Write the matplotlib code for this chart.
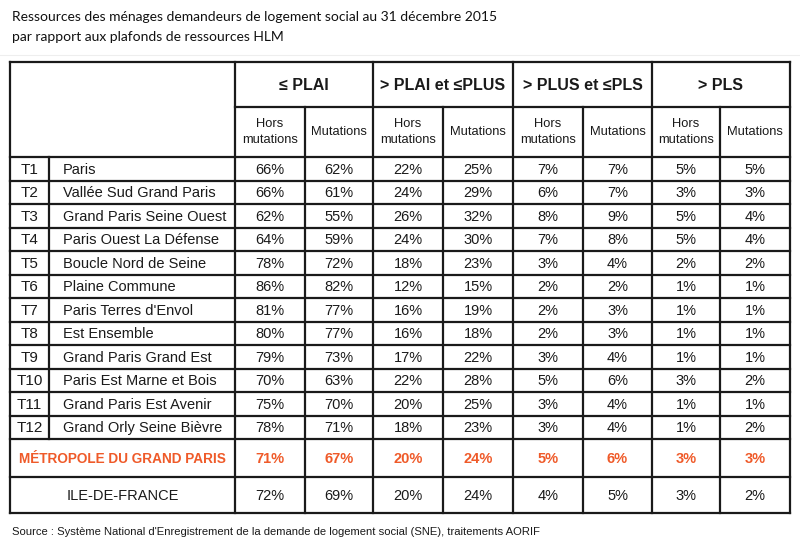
import matplotlib.pyplot as plt

# table content
codes = ["T1", "T2", "T3", "T4", "T5", "T6", "T7", "T8", "T9", "T10", "T11", "T12"]
names = ["Paris", "Vallée Sud Grand Paris", "Grand Paris Seine Ouest",
         "Paris Ouest La Défense", "Boucle Nord de Seine", "Plaine Commune",
         "Paris Terres d'Envol", "Est Ensemble", "Grand Paris Grand Est",
         "Paris Est Marne et Bois", "Grand Paris Est Avenir", "Grand Orly Seine Bièvre"]
plai_hors = [66, 66, 62, 64, 78, 86, 81, 80, 79, 70, 75, 78]
plai_mut = [62, 61, 55, 59, 72, 82, 77, 77, 73, 63, 70, 71]
plus_hors = [22, 24, 26, 24, 18, 12, 16, 16, 17, 22, 20, 18]
plus_mut = [25, 29, 32, 30, 23, 15, 19, 18, 22, 28, 25, 23]
pls_hors = [7, 6, 8, 7, 3, 2, 2, 2, 3, 5, 3, 3]
pls_mut = [7, 7, 9, 8, 4, 2, 3, 3, 4, 6, 4, 4]
over_hors = [5, 3, 5, 5, 2, 1, 1, 1, 1, 3, 1, 1]
over_mut = [5, 3, 4, 4, 2, 1, 1, 1, 1, 2, 1, 2]

metropole_label = "MÉTROPOLE DU GRAND PARIS"
metropole = [71, 67, 20, 24, 5, 6, 3, 3]
idf_label = "ILE-DE-FRANCE"
idf = [72, 69, 20, 24, 4, 5, 3, 2]

groups = ["≤ PLAI", "> PLAI et ≤PLUS", "> PLUS et ≤PLS", "> PLS"]
subheads = ["Hors\nmutations", "Mutations"]

title_lines = ["Ressources des ménages demandeurs de logement social au 31 décembre 2015",
               "par rapport aux plafonds de ressources HLM"]
source = "Source : Système National d'Enregistrement de la demande de logement social (SNE), traitements AORIF"

ORANGE = "#ef5a29"
INK = "#1a1a1a"
FONT = "Liberation Sans"

# layout (pixel coords)
col_x = [235, 305, 373, 443, 513, 583, 652, 720, 790]
left, code_div = 10, 49
top, head1, head2 = 62, 107, 157
row_h = 23.5
body_bottom = head2 + row_h * len(codes)
metro_bottom = 477
bottom = 513

fig = plt.figure(figsize=(8, 5.47), dpi=100)
ax = fig.add_axes([0, 0, 1, 1])
ax.set_xlim(0, 800)
ax.set_ylim(547, 0)
ax.axis("off")

for k, line in enumerate(title_lines):
    ax.text(12, 17 + 20 * k, line, fontsize=10, family="Lato", color="#111111",
            va="center", ha="left")
ax.plot([0, 800], [55, 55], color="#eeeeee", lw=0.8)

lw = 1.6
# horizontal lines
ax.plot([left, col_x[-1]], [top, top], color=INK, lw=lw)
ax.plot([col_x[0], col_x[-1]], [head1, head1], color=INK, lw=lw)
ax.plot([left, col_x[-1]], [head2, head2], color=INK, lw=lw)
for i in range(1, len(codes) + 1):
    y = head2 + row_h * i
    ax.plot([left, col_x[-1]], [y, y], color=INK, lw=lw)
ax.plot([left, col_x[-1]], [metro_bottom, metro_bottom], color=INK, lw=lw)
ax.plot([left, col_x[-1]], [bottom, bottom], color=INK, lw=lw)

# vertical lines
ax.plot([left, left], [top, bottom], color=INK, lw=lw)
ax.plot([code_div, code_div], [head2, body_bottom], color=INK, lw=lw)
for j, x in enumerate(col_x):
    y0 = top if j % 2 == 0 else head1
    ax.plot([x, x], [y0, bottom], color=INK, lw=lw)

# headers
for g, lab in enumerate(groups):
    cx = (col_x[2 * g] + col_x[2 * g + 2]) / 2
    ax.text(cx, (top + head1) / 2 + 1, lab, ha="center", va="center",
            fontsize=11.5, fontweight="bold", family=FONT, color=INK)
    for s, sub in enumerate(subheads):
        sx = (col_x[2 * g + s] + col_x[2 * g + s + 1]) / 2
        ax.text(sx, (head1 + head2) / 2, sub, ha="center", va="center",
                fontsize=9.3, family=FONT, color=INK, linespacing=1.35)

# body rows
cols = [plai_hors, plai_mut, plus_hors, plus_mut, pls_hors, pls_mut, over_hors, over_mut]
for i in range(len(codes)):
    cy = head2 + row_h * (i + 0.5) + 1
    ax.text((left + code_div) / 2, cy, codes[i], ha="center", va="center",
            fontsize=11, family=FONT, color=INK)
    ax.text(63, cy, names[i], ha="left", va="center",
            fontsize=10.5, family=FONT, color=INK)
    for j, c in enumerate(cols):
        cx = (col_x[j] + col_x[j + 1]) / 2
        ax.text(cx, cy, f"{c[i]}%", ha="center", va="center",
                fontsize=10.5, family=FONT, color=INK)

# totals
my = (body_bottom + metro_bottom) / 2 + 1
ax.text((left + col_x[0]) / 2, my, metropole_label, ha="center", va="center",
        fontsize=9.8, fontweight="bold", family=FONT, color=ORANGE)
iy = (metro_bottom + bottom) / 2 + 1
ax.text((left + col_x[0]) / 2, iy, idf_label, ha="center", va="center",
        fontsize=10.5, family=FONT, color=INK)
for j in range(8):
    cx = (col_x[j] + col_x[j + 1]) / 2
    ax.text(cx, my, f"{metropole[j]}%", ha="center", va="center",
            fontsize=10.5, fontweight="bold", family=FONT, color=ORANGE)
    ax.text(cx, iy, f"{idf[j]}%", ha="center", va="center",
            fontsize=10.5, family=FONT, color=INK)

ax.text(12, 532, source, ha="left", va="center", fontsize=8.1, family=FONT, color=INK)

fig.savefig("out.png", dpi=100)
